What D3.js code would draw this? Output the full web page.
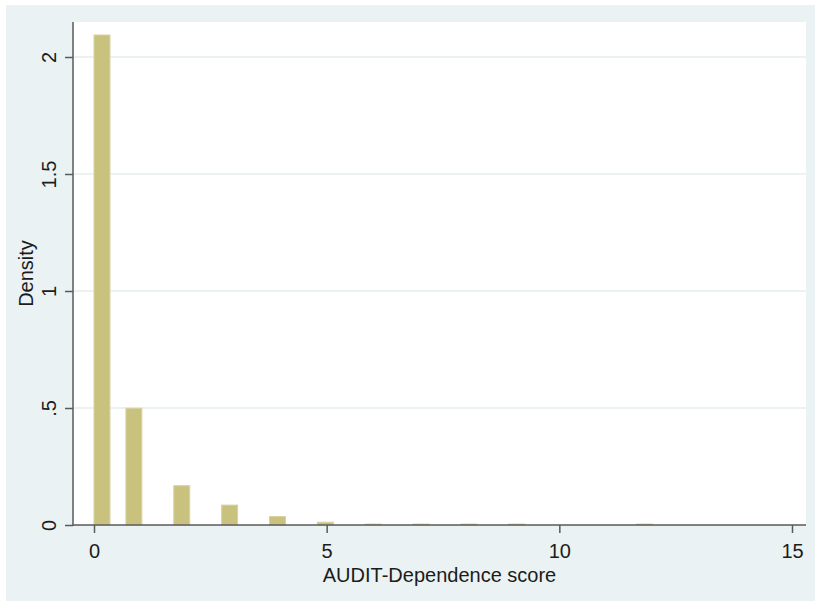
<!DOCTYPE html>
<html>
<head>
<meta charset="utf-8">
<script src="https://cdn.jsdelivr.net/npm/d3@7"></script>
<style>
  html, body { margin: 0; padding: 0; background: #ffffff; }
  svg { display: block; }
  text { font-family: "Liberation Sans", Arial, Helvetica, sans-serif; fill: #1c1c1c; }
</style>
</head>
<body>
<svg id="chart" width="815" height="601"></svg>
<script>
// AUDIT-Dependence score histogram (density scale)
const scores  = [0, 1, 2, 3, 4, 5, 6, 7, 8, 9, 12];
const density = [2.094, 0.499, 0.168, 0.085, 0.036, 0.012, 0.004, 0.004, 0.004, 0.004, 0.004];
const binCount = 35;
const scoreMin = 0, scoreMax = 12;

const xTicks = [0, 5, 10, 15];
const xTickLabels = ["0", "5", "10", "15"];
const yTicks = [0, 0.5, 1, 1.5, 2];
const yTickLabels = ["0", ".5", "1", "1.5", "2"];

const xTitle = "AUDIT-Dependence score";
const yTitle = "Density";

// layout
const W = 815, H = 601;
const outer = { x: 6, y: 5, w: 809, h: 596 };
const plot = { left: 73, right: 806, top: 22, bottom: 525 };

const svg = d3.select("#chart");

svg.append("rect")
  .attr("x", outer.x).attr("y", outer.y)
  .attr("width", outer.w).attr("height", outer.h)
  .attr("fill", "#eaf2f3");

svg.append("rect")
  .attr("x", plot.left).attr("y", plot.top)
  .attr("width", plot.right - plot.left).attr("height", plot.bottom - plot.top)
  .attr("fill", "#ffffff");

const x = d3.scaleLinear().domain([0, 15]).range([94, 792]);
const y = d3.scaleLinear().domain([0, 2]).range([plot.bottom, 57]);

// horizontal grid lines
svg.append("g")
  .selectAll("line")
  .data(yTicks.filter(d => d > 0))
  .join("line")
  .attr("x1", plot.left).attr("x2", plot.right)
  .attr("y1", d => y(d)).attr("y2", d => y(d))
  .attr("stroke", "#e6eef0").attr("stroke-width", 1.5);

// histogram bars: each score falls into one of the equal-width bins
const binWidth = (scoreMax - scoreMin) / binCount;
const bars = scores.map((s, i) => {
  const idx = Math.min(binCount - 1, Math.floor((s - scoreMin) / binWidth + 1e-9));
  return { x0: scoreMin + idx * binWidth, x1: scoreMin + (idx + 1) * binWidth, d: density[i] };
});

svg.append("g")
  .selectAll("rect")
  .data(bars)
  .join("rect")
  .attr("x", d => x(d.x0))
  .attr("width", d => x(d.x1) - x(d.x0))
  .attr("y", d => y(d.d))
  .attr("height", d => y(0) - y(d.d))
  .attr("fill", "#c9c27f")
  .attr("stroke", "#d8d29e")
  .attr("stroke-width", 1);

// y axis
const yAxis = d3.axisLeft(y)
  .tickValues(yTicks)
  .tickFormat((d, i) => yTickLabels[i])
  .tickSize(8)
  .tickSizeOuter(0);

const gy = svg.append("g")
  .attr("transform", `translate(${plot.left},0)`)
  .call(yAxis);
gy.select(".domain").remove();
gy.append("line")
  .attr("x1", 0).attr("x2", 0)
  .attr("y1", plot.top).attr("y2", plot.bottom + 1)
  .attr("stroke", "#5a5a5a").attr("stroke-width", 1.5);
gy.selectAll(".tick line").attr("stroke", "#5a5a5a").attr("stroke-width", 1.5);
gy.selectAll(".tick text")
  .attr("font-size", 20)
  .attr("fill", "#1c1c1c")
  .attr("transform", null)
  .attr("x", null).attr("dy", null)
  .attr("text-anchor", "middle")
  .attr("transform", "translate(-17,0) rotate(-90)");

// x axis
const xAxis = d3.axisBottom(x)
  .tickValues(xTicks)
  .tickFormat((d, i) => xTickLabels[i])
  .tickSize(8)
  .tickSizeOuter(0);

const gx = svg.append("g")
  .attr("transform", `translate(0,${plot.bottom})`)
  .call(xAxis);
gx.select(".domain").remove();
gx.append("line")
  .attr("x1", plot.left).attr("x2", plot.right)
  .attr("y1", 0).attr("y2", 0)
  .attr("stroke", "#5a5a5a").attr("stroke-width", 1.5);
gx.selectAll(".tick line").attr("stroke", "#5a5a5a").attr("stroke-width", 1.5);
gx.selectAll(".tick text")
  .attr("font-size", 20)
  .attr("fill", "#1c1c1c")
  .attr("y", 33).attr("dy", null);

// axis titles
svg.append("text")
  .attr("x", (plot.left + plot.right) / 2)
  .attr("y", 582)
  .attr("text-anchor", "middle")
  .attr("font-size", 20)
  .text(xTitle);

svg.append("text")
  .attr("transform", `translate(33,${(plot.top + plot.bottom) / 2}) rotate(-90)`)
  .attr("text-anchor", "middle")
  .attr("font-size", 20)
  .text(yTitle);
</script>
</body>
</html>
